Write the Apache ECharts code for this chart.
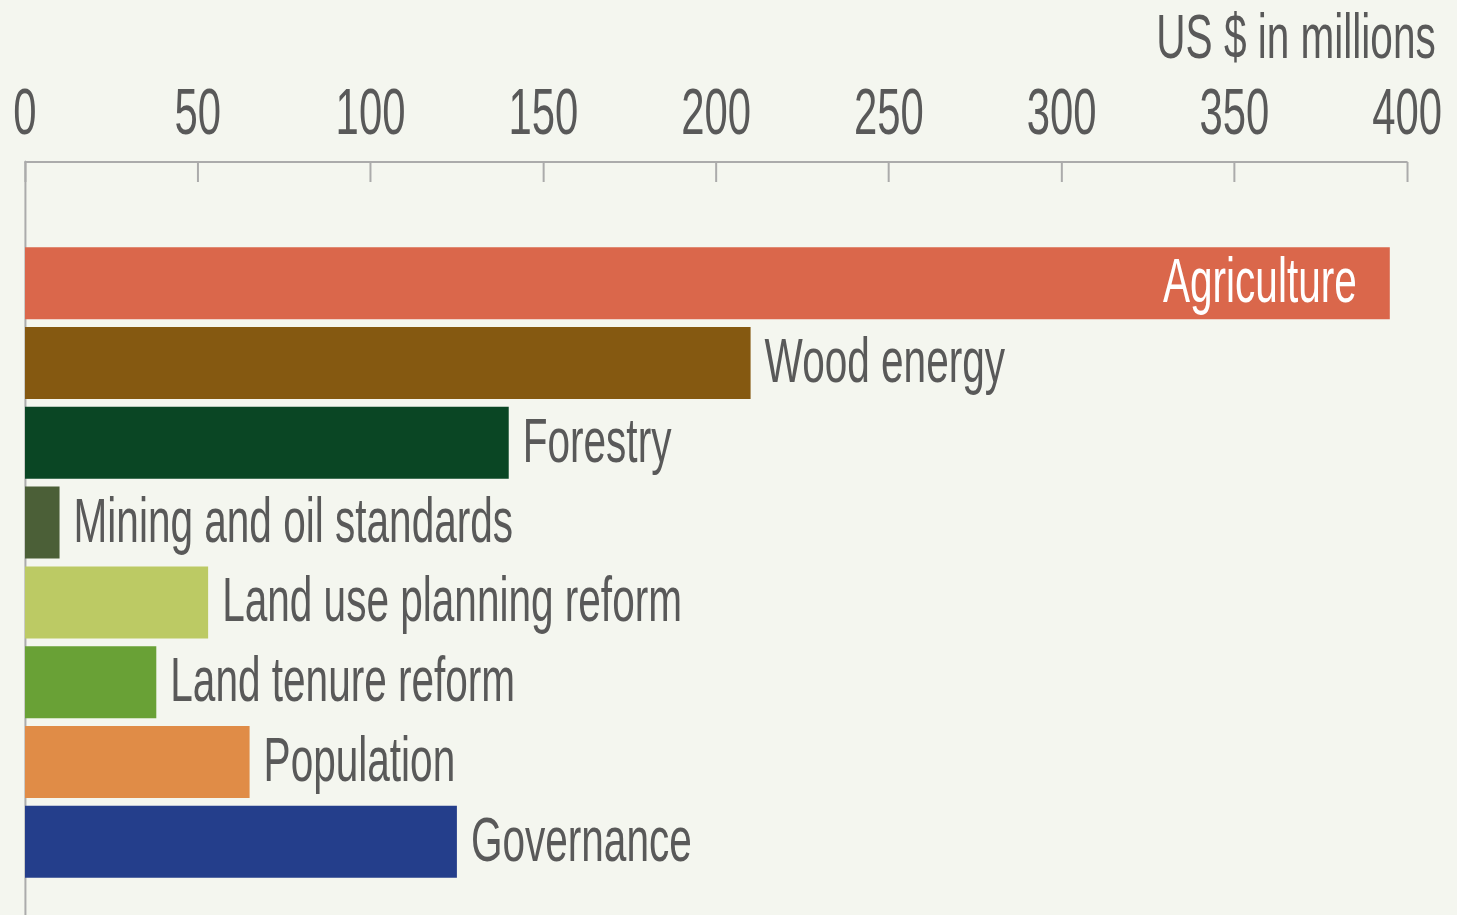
<!DOCTYPE html>
<html>
<head>
<meta charset="utf-8">
<title>US $ in millions</title>
<script src="https://cdn.jsdelivr.net/npm/echarts@6/dist/echarts.min.js"></script>
<style>
  html, body { margin: 0; padding: 0; background: #f4f6ef; overflow: hidden; }
  #chart { height: 915px; transform-origin: 0 0; }
</style>
</head>
<body>
<div id="chart"></div>
<script>
// 数据
const categories = [
  'Agriculture',
  'Wood energy',
  'Forestry',
  'Mining and oil standards',
  'Land use planning reform',
  'Land tenure reform',
  'Population',
  'Governance'
]
const values = [395, 210, 140, 10, 53, 38, 65, 125]
const axisMin = 0
const axisMax = 400
const axisStep = 50
const unitTitle = 'US $ in millions'

const barColors = ['#da674b', '#855911', '#0a4624', '#4b5f37', '#bcca64', '#69a136', '#e08c47', '#243e8b']
const FONT = '"Liberation Sans Narrow", "Liberation Sans", Arial, sans-serif'
const TEXT_COLOR = '#595959'
const AXIS_COLOR = '#ababab'

// the original uses a condensed face: draw wider, then squeeze horizontally
const ctx = document.createElement('canvas').getContext('2d')
ctx.font = '65px ' + FONT
const sx = 200 / ctx.measureText('Agriculture').width

const W = 1457
const chartEl = document.getElementById('chart')
chartEl.style.width = (W / sx) + 'px'
chartEl.style.transform = 'scaleX(' + sx + ')'

const chart = echarts.init(chartEl, null, { renderer: 'svg' })

const insideLimit = axisMax * 0.75
const barData = values.map((v, i) => {
  const item = { value: v, itemStyle: { color: barColors[i] } }
  if (v > insideLimit) {
    item.label = { position: 'insideRight', distance: 33 / sx, color: '#ffffff' }
  }
  return item
})

const gridLeft = 25 / sx
const gridRight = 49.7 / sx

const option = {
  backgroundColor: '#f4f6ef',
  animation: false,
  title: {
    text: unitTitle,
    right: 21 / sx,
    top: 4,
    padding: 0,
    textStyle: {
      fontFamily: FONT,
      fontSize: 63,
      lineHeight: 63,
      fontWeight: 'normal',
      color: TEXT_COLOR
    }
  },
  grid: [
    { left: gridLeft, right: gridRight, top: 243.4, bottom: 33.4 },
    { left: gridLeft, right: gridRight, top: 162, bottom: 0 }
  ],
  xAxis: [
    { gridIndex: 0, type: 'value', min: axisMin, max: axisMax, interval: axisStep, show: false },
    {
      gridIndex: 1,
      type: 'value',
      position: 'top',
      min: axisMin,
      max: axisMax,
      interval: axisStep,
      axisLine: { show: true, onZero: false, lineStyle: { color: AXIS_COLOR, width: 2 } },
      axisTick: { show: true, inside: true, length: 20, lineStyle: { color: AXIS_COLOR, width: 2 / sx } },
      axisLabel: { margin: 18, fontFamily: FONT, fontSize: 65, lineHeight: 65, color: TEXT_COLOR },
      splitLine: { show: false }
    }
  ],
  yAxis: [
    { gridIndex: 0, type: 'category', data: categories, inverse: true, show: false },
    {
      gridIndex: 1,
      type: 'value',
      min: 0,
      max: 1,
      axisLine: { show: true, onZero: false, lineStyle: { color: AXIS_COLOR, width: 2 / sx } },
      axisTick: { show: false },
      axisLabel: { show: false },
      splitLine: { show: false }
    }
  ],
  series: [
    {
      type: 'bar',
      xAxisIndex: 0,
      yAxisIndex: 0,
      barWidth: 72,
      data: barData,
      label: {
        show: true,
        position: 'right',
        distance: 14 / sx,
        offset: [0, -3],
        formatter: p => p.name,
        fontFamily: FONT,
        fontSize: 63,
        color: TEXT_COLOR
      }
    }
  ]
}

chart.setOption(option)
</script>
</body>
</html>
